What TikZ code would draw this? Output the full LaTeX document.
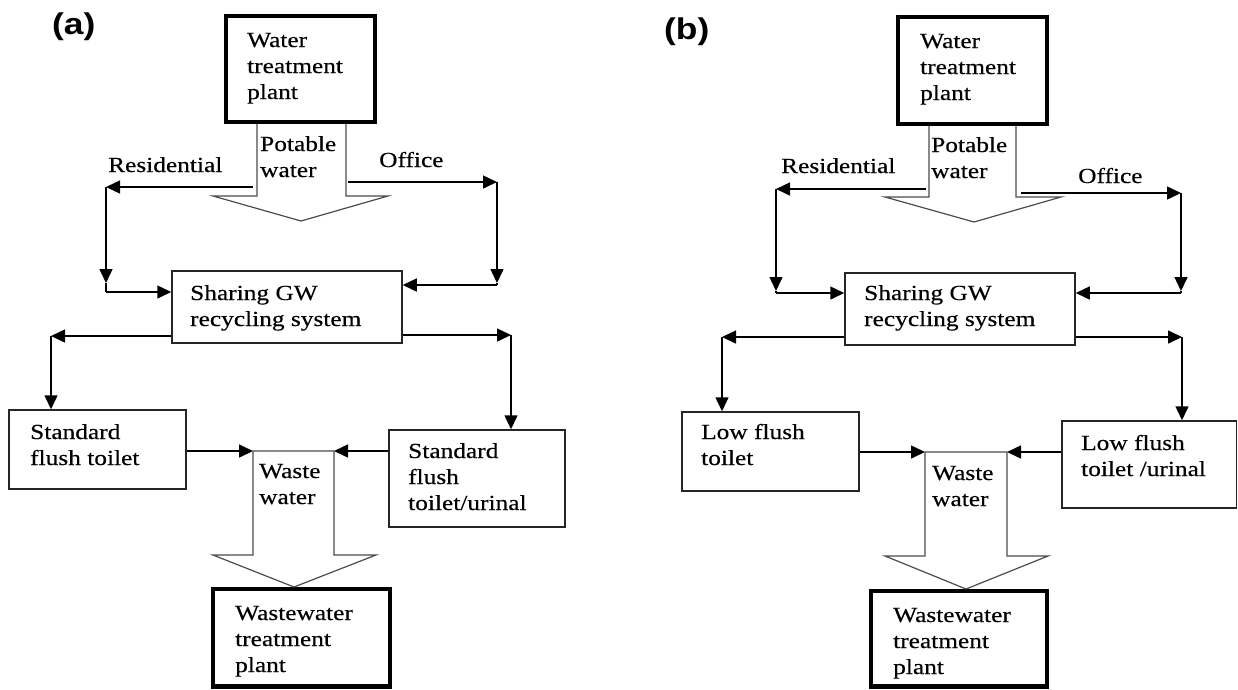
\documentclass[tikz,border=0pt]{standalone}
\usepackage{fontspec}
\setmainfont{Liberation Serif}[FakeStretch=1.18,FakeBold=0.35]
\newfontfamily\labelfont{Liberation Sans}[FakeStretch=1.18]
\usetikzlibrary{arrows.meta}

% left-aligned stacked lines, baseline on the first line
\newcommand\ml[1]{\begin{tabular}[t]{@{}l@{}}#1\end{tabular}}

\begin{document}
\begin{tikzpicture}[x=1pt,y=-1pt,
  font=\fontsize{21.5}{26}\selectfont,
  txt/.style={anchor=base west, inner sep=0pt},
  thinbox/.style={draw=black!85, line width=1.5pt, inner sep=0pt},
  thickbox/.style={draw=black, line width=4.5pt, inner sep=0pt},
  flow/.style={draw=black!70, line width=1.2pt, line join=miter},
  arr/.style={draw=black, line width=1.5pt, -{Triangle[length=14pt,width=13pt]}},
  seg/.style={draw=black, line width=1.5pt},
  panel/.style={anchor=base west, inner sep=0pt, font=\labelfont\bfseries\fontsize{30}{30}\selectfont}
]
\fill[white] (0,0) rectangle (1238,689);
\useasboundingbox (0,0) rectangle (1238,689);

% ================= panel (a) =================
\node[panel] (labA) at (52,34) {(a)};

\node[thickbox, minimum width=149, minimum height=106] (wtpA) at (300.5,69) {};
\node[txt] (wtpAt) at (247,47) {\ml{Water\\treatment\\plant}};

% potable water block arrow
\draw[flow] (257,124) -- (257,196) -- (213,196) -- (301,221) -- (388,196) -- (346,196) -- (346,124);
\node[txt] (potAt) at (260,151) {\ml{Potable\\water}};

\node[txt] (resAt) at (108,172) {Residential};
\node[txt] (offAt) at (379,167) {Office};

\node[thinbox, minimum width=230, minimum height=72] (shA) at (287,307) {};
\node[txt] (shAt) at (190,300) {\ml{Sharing GW\\recycling system}};

\node[thinbox, minimum width=177, minimum height=79] (stdA) at (97.5,449.5) {};
\node[txt] (stdAt) at (30,439) {\ml{Standard\\flush toilet}};

\node[thinbox, minimum width=176, minimum height=97] (rbA) at (477,478.5) {};
\node[txt] (rbAt) at (408,458) {\ml{Standard\\flush\\toilet/urinal}};

\node[thickbox, minimum width=177, minimum height=97.5] (wwA) at (301.5,637.75) {};
\node[txt] (wwAt) at (235,620) {\ml{Wastewater\\treatment\\plant}};

% residential branch
\coordinate (rA1) at (253,187);
\coordinate (rA2) at (106,187);
\coordinate (rA3) at (106,283);
\coordinate (rA4) at (106,292);
\draw[arr] (rA1) -- (rA2);
\draw[arr] (rA2) -- (rA3);
\draw[seg] (rA3) -- (rA4);
\draw[arr] (rA4) -- (shA.west |- rA4);

% office branch
\coordinate (oA1) at (348,182);
\coordinate (oA2) at (497,182);
\coordinate (oA3) at (497,283);
\coordinate (oA4) at (497,285);
\draw[arr] (oA1) -- (oA2);
\draw[arr] (oA2) -- (oA3);
\draw[seg] (oA3) -- (oA4);
\draw[arr] (oA4) -- (shA.east |- oA4);

% recycled water to the toilets
\coordinate (dA1) at (51,336);
\draw[arr] (shA.west |- dA1) -- (dA1);
\draw[arr] (dA1) -- (stdA.north -| dA1);
\coordinate (dA2) at (511,335);
\draw[arr] (shA.east |- dA2) -- (dA2);
\draw[arr] (dA2) -- (rbA.north -| dA2);

% waste water block arrow
\coordinate (wA1) at (253,451);
\coordinate (wA2) at (334,451);
\draw[arr] (stdA.east |- wA1) -- (wA1);
\draw[arr] (rbA.west |- wA2) -- (wA2);
\draw[flow] (wA1) -- (253,555) -- (213,555) -- (294,587) -- (376,555) -- (334,555) -- (wA2) -- cycle;
\node[txt] (wasAt) at (259,478) {\ml{Waste\\water}};

% ================= panel (b) =================
\node[panel] (labB) at (664,39) {(b)};

\node[thickbox, minimum width=149, minimum height=107] (wtpB) at (972.5,70.5) {};
\node[txt] (wtpBt) at (920,48) {\ml{Water\\treatment\\plant}};

\draw[flow] (929,126) -- (929,197) -- (885,197) -- (974,222) -- (1061,197) -- (1016,197) -- (1016,126);
\node[txt] (potBt) at (931,152) {\ml{Potable\\water}};

\node[txt] (resBt) at (781,173) {Residential};
\node[txt] (offBt) at (1078,183) {Office};

\node[thinbox, minimum width=230, minimum height=72] (shB) at (960,309) {};
\node[txt] (shBt) at (864,300) {\ml{Sharing GW\\recycling system}};

\node[thinbox, minimum width=177, minimum height=79] (lowB) at (770.5,451.5) {};
\node[txt] (lowBt) at (701,439) {\ml{Low flush\\toilet}};

\node[thinbox, minimum width=174.5, minimum height=87] (rbB) at (1149.25,464.5) {};
\node[txt] (rbBt) at (1081,450) {\ml{Low flush\\toilet /urinal}};

\node[thickbox, minimum width=176, minimum height=95.5] (wwB) at (959,638.75) {};
\node[txt] (wwBt) at (893,622) {\ml{Wastewater\\treatment\\plant}};

% residential branch
\coordinate (rB1) at (926,189);
\coordinate (rB2) at (776,189);
\coordinate (rB3) at (776,291);
\coordinate (rB4) at (776,293);
\draw[arr] (rB1) -- (rB2);
\draw[arr] (rB2) -- (rB3);
\draw[seg] (rB3) -- (rB4);
\draw[arr] (rB4) -- (shB.west |- rB4);

% office branch
\coordinate (oB1) at (1021,193);
\coordinate (oB2) at (1181,193);
\coordinate (oB3) at (1181,291);
\coordinate (oB4) at (1181,293);
\draw[arr] (oB1) -- (oB2);
\draw[arr] (oB2) -- (oB3);
\draw[seg] (oB3) -- (oB4);
\draw[arr] (oB4) -- (shB.east |- oB4);

% recycled water to the toilets
\coordinate (dB1) at (722,337);
\draw[arr] (shB.west |- dB1) -- (dB1);
\draw[arr] (dB1) -- (lowB.north -| dB1);
\coordinate (dB2) at (1182,337);
\draw[arr] (shB.east |- dB2) -- (dB2);
\draw[arr] (dB2) -- (rbB.north -| dB2);

% waste water block arrow
\coordinate (wB1) at (925,452);
\coordinate (wB2) at (1007,452);
\draw[arr] (lowB.east |- wB1) -- (wB1);
\draw[arr] (rbB.west |- wB2) -- (wB2);
\draw[flow] (wB1) -- (925,556) -- (885,556) -- (966,589) -- (1048,556) -- (1007,556) -- (wB2) -- cycle;
\node[txt] (wasBt) at (932,480) {\ml{Waste\\water}};
\end{tikzpicture}
\end{document}
